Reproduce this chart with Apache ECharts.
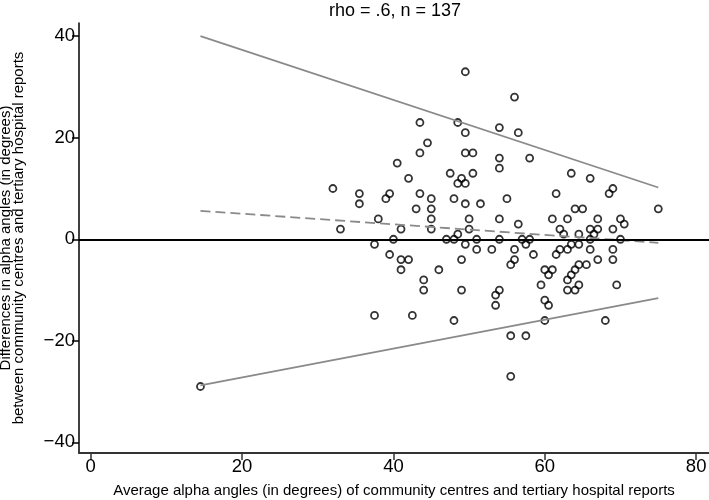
<!DOCTYPE html>
<html>
<head>
<meta charset="utf-8">
<script src="https://cdn.jsdelivr.net/npm/echarts@6/dist/echarts.min.js"></script>
<style>
  html, body { margin: 0; padding: 0; background: #fff; }
  #chart { width: 709px; height: 500px; }
</style>
</head>
<body>
<div id="chart"></div>
<script>
// 每个点: [平均角度, 差值]
const points = [
  [43.5, 23], [48.5, 23], [49.5, 21], [54, 22], [44.5, 19], [43.5, 17], [49.5, 17], [50.5, 17],
  [54, 16], [54, 14], [40.5, 15], [47.5, 13], [50.5, 13], [49, 12], [48.5, 11], [49.5, 11],
  [42, 12], [32, 10], [35.5, 9], [35.5, 7], [39.5, 9], [39, 8], [43.5, 9], [45, 8],
  [48, 8], [43, 6], [45, 6], [49.5, 7], [51.5, 7], [38, 4], [45, 4], [50, 4],
  [54, 4], [33, 2], [41, 2], [45, 2], [50, 2], [48.5, 1], [40, 0], [47, 0],
  [48, 0], [51, 0], [54, 0], [37.5, -1], [49.5, -1], [51, -2], [53, -2], [39.5, -3],
  [41, -4], [42, -4], [49, -4], [41, -6], [46, -6], [44, -8], [44, -10], [49, -10],
  [54, -10], [53.5, -11], [53.5, -13], [37.5, -15], [42.5, -15], [48, -16], [56, 28], [56.5, 21],
  [58, 16], [63.5, 13], [66, 12], [69, 10], [68.5, 9], [61.5, 9], [55, 8], [64, 6],
  [65, 6], [75, 6], [56.5, 3], [61, 4], [63, 4], [67, 4], [70, 4], [70.5, 3],
  [62, 2], [66, 2], [67, 2], [69, 2], [62.5, 1], [64.5, 1], [66.5, 1], [57, 0],
  [58, 0], [57.5, -1], [66, 0], [70, 0], [63.5, -1], [64.5, -1], [56, -2], [62, -2],
  [63, -2], [66, -2], [69, -2], [58.5, -3], [61.5, -3], [56, -4], [55.5, -5], [67, -4],
  [69, -4], [64.5, -5], [65.5, -5], [64, -6], [60, -6], [61, -6], [60.5, -7], [63.5, -7],
  [63, -8], [64.5, -9], [59.5, -9], [69.5, -9], [63, -10], [64, -10], [60, -12], [60.5, -13],
  [60, -16], [68, -16], [55.5, -19], [57.5, -19], [55.5, -27], [14.5, -29], [49.5, 33]
];

// 回归线端点
const upperLine = [[14.5, 40.0], [75, 10.2]];
const meanLine = [[14.5, 5.6], [75, -0.7]];
const lowerLine = [[14.5, -28.8], [75, -11.6]];

const xTicks = [0, 20, 40, 60, 80];
const yTicks = [-40, -20, 0, 20, 40];

const font = '"Liberation Sans", Arial, sans-serif';
const minus = v => String(v).replace('-', '\u2212');
const chart = echarts.init(document.getElementById('chart'));

chart.setOption({
  animation: false,
  backgroundColor: '#fff',
  graphic: [{
    type: 'text', x: 395, y: 2,
    style: { text: 'rho = .6, n = 137', font: '18px ' + font, fill: '#000', textAlign: 'center' }
  }],
  grid: { left: 79, right: 0, top: 23, bottom: 47, containLabel: false, outerBoundsMode: 'none' },
  xAxis: {
    type: 'value', min: -1.55, max: 81.7,
    name: 'Average alpha angles (in degrees) of community centres and tertiary hospital reports',
    nameLocation: 'middle', nameGap: 30,
    nameTextStyle: { fontFamily: font, fontSize: 15, color: '#000' },
    axisLine: { onZero: false, lineStyle: { color: '#333', width: 2 } },
    axisTick: { length: 7, customValues: xTicks, lineStyle: { color: '#333', width: 1.5 } },
    axisLabel: { customValues: xTicks, margin: 4, fontFamily: font, fontSize: 18.5, color: '#000' },
    splitLine: { show: false }
  },
  yAxis: {
    type: 'value', min: -42.1, max: 42.6,
    name: 'Differences in alpha angles (in degrees)\nbetween community centres and tertiary hospital reports',
    nameLocation: 'middle', nameGap: 54,
    nameTextStyle: { fontFamily: font, fontSize: 15, color: '#000', lineHeight: 12.5 },
    axisLine: { onZero: false, lineStyle: { color: '#000', width: 1.5 } },
    axisTick: { length: 7, customValues: yTicks, lineStyle: { color: '#000', width: 1.5 } },
    axisLabel: { customValues: yTicks, margin: 4, fontFamily: font, fontSize: 18.5, color: '#000', formatter: minus },
    splitLine: { show: false }
  },
  series: [
    {
      type: 'line', data: upperLine, symbol: 'none', silent: true,
      lineStyle: { color: '#8a8a8a', width: 1.8 }
    },
    {
      type: 'line', data: lowerLine, symbol: 'none', silent: true,
      lineStyle: { color: '#8a8a8a', width: 1.8 }
    },
    {
      type: 'line', data: meanLine, symbol: 'none', silent: true,
      lineStyle: { color: '#8a8a8a', width: 1.8, type: [10, 5] }
    },
    {
      type: 'scatter', data: points, symbol: 'circle', symbolSize: 7,
      itemStyle: { color: 'rgba(0,0,0,0)', borderColor: '#000', borderWidth: 1.8 },
      markLine: {
        silent: true, symbol: 'none', label: { show: false },
        lineStyle: { color: '#000', width: 2, type: 'solid' },
        data: [{ yAxis: 0 }]
      }
    }
  ]
});
</script>
</body>
</html>
